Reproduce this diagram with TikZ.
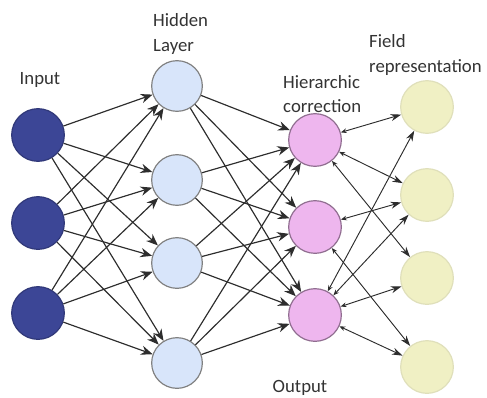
\documentclass[tikz,border=0pt]{standalone}
\usepackage{fontspec}
\setmainfont{Carlito}
\usetikzlibrary{arrows.meta}
\definecolor{inblue}{RGB}{60,70,150}
\definecolor{hidblue}{RGB}{216,229,250}
\definecolor{corpink}{RGB}{238,182,238}
\definecolor{fldyellow}{RGB}{240,240,196}
\definecolor{edgegray}{RGB}{45,45,45}
\begin{document}
\begin{tikzpicture}[>={Stealth[length=10pt,width=8pt]}, x=0.03cm, y=-0.03cm,
  neuron/.style={circle, minimum size=1.58cm, inner sep=0pt, line width=1pt},
  lbl/.style={font=\fontsize{16}{20.5}\selectfont, text=black!80, inner sep=0pt},
  link/.style={->, draw=edgegray, line width=1pt},
  twoway/.style={{Stealth[length=5pt,width=4pt]}-{Stealth[length=9pt,width=6pt]}, draw=edgegray, line width=0.8pt}]
\useasboundingbox (0,0) rectangle (487,397);
% input layer
\node[neuron, fill=inblue, draw=inblue!80!black] (in1) at (38,135) {};
\node[neuron, fill=inblue, draw=inblue!80!black] (in2) at (38,223) {};
\node[neuron, fill=inblue, draw=inblue!80!black] (in3) at (38,313) {};
% hidden layer
\node[neuron, minimum size=1.52cm, fill=hidblue, draw=gray] (h1) at (177,86) {};
\node[neuron, minimum size=1.52cm, fill=hidblue, draw=gray] (h2) at (177,180) {};
\node[neuron, minimum size=1.52cm, fill=hidblue, draw=gray] (h3) at (177,263) {};
\node[neuron, minimum size=1.52cm, fill=hidblue, draw=gray] (h4) at (177,363) {};
% hierarchic correction
\node[neuron, fill=corpink, draw=corpink!60!black] (c1) at (315,140) {};
\node[neuron, fill=corpink, draw=corpink!60!black] (c2) at (315,227) {};
\node[neuron, fill=corpink, draw=corpink!60!black] (c3) at (315,315) {};
% field representation
\node[neuron, fill=fldyellow, draw=fldyellow!85!gray] (f1) at (427,107) {};
\node[neuron, fill=fldyellow, draw=fldyellow!85!gray] (f2) at (427,195) {};
\node[neuron, fill=fldyellow, draw=fldyellow!85!gray] (f3) at (427,278) {};
\node[neuron, fill=fldyellow, draw=fldyellow!85!gray] (f4) at (427,367) {};
% labels
\node[lbl] (inlbl) at (40,80) {Input};
\node[lbl, anchor=west, align=left] (hidlbl) at (153,34) {Hidden\\Layer};
\node[lbl, anchor=west, align=left] (corlbl) at (283,94) {Hierarchic\\correction};
\node[lbl, anchor=west, align=left] (fldlbl) at (369,55) {Field\\representation};
\node[lbl] (outlbl) at (300,388) {Output};
% connections
\foreach \i in {1,2,3}
  \foreach \j in {1,2,3,4}
    \draw[link] (in\i) -- (h\j);
\foreach \j in {1,2,3,4}
  \foreach \k in {1,2,3}
    \draw[link] (h\j) -- (c\k);
\draw[twoway] (c1) -- (f1);
\draw[twoway] (c1) -- (f2);
\draw[twoway] (c1) -- (f3);
\draw[twoway] (c2) -- (f2);
\draw[twoway] (c2) -- (f4);
\draw[twoway] (c3) -- (f1);
\draw[twoway] (c3) -- (f2);
\draw[twoway] (c3) -- (f3);
\draw[twoway] (c3) -- (f4);
\end{tikzpicture}
\end{document}
